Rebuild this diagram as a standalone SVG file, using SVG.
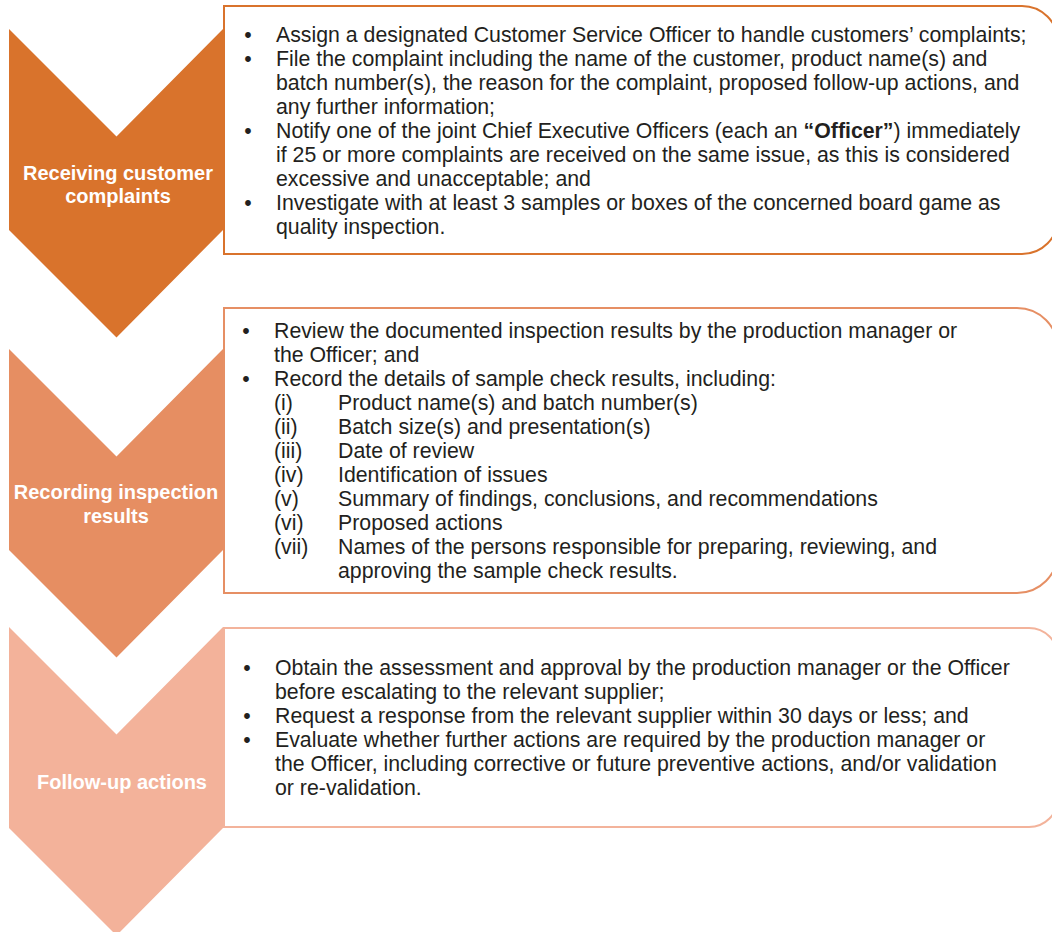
<svg xmlns="http://www.w3.org/2000/svg" width="1052" height="932" viewBox="0 0 1052 932">
  <style>
    .box { fill: #ffffff; stroke-width: 2; }
    .step { stroke: none; }
    .label { font-family: "Liberation Sans", Arial, sans-serif; font-size: 20px; font-weight: bold; fill: #ffffff; text-anchor: middle; }
    .body { font-family: "Liberation Sans", Arial, sans-serif; font-size: 21.3px; fill: #231f20; }
    .dot { text-anchor: middle; }
    .b { font-weight: bold; }
  </style>
  <rect width="1052" height="932" fill="#ffffff"/>

  <!-- Step 1: receiving customer complaints -->
  <g id="step1">
    <path class="box" stroke="#d9732c" d="M224,6 H1022 A36,36 0 0 1 1058,42 V218 A36,36 0 0 1 1022,254 H224 Z"/>
    <path class="step" fill="#d9732c" d="M9,29 L116.5,136.5 L223,29 L223,230 L116.5,337.5 L9,230 Z"/>
    <text class="label" x="118" y="180">Receiving customer</text>
    <text class="label" x="118" y="203">complaints</text>
    <g class="body">
      <text class="dot" x="248" y="42">•</text>
      <text x="276" y="42">Assign a designated Customer Service Officer to handle customers’ complaints;</text>
      <text class="dot" x="248" y="66">•</text>
      <text x="276" y="66">File the complaint including the name of the customer, product name(s) and</text>
      <text x="276" y="90">batch number(s), the reason for the complaint, proposed follow-up actions, and</text>
      <text x="276" y="114">any further information;</text>
      <text class="dot" x="248" y="138">•</text>
      <text x="276" y="138">Notify one of the joint Chief Executive Officers (each an <tspan class="b">“Officer”</tspan>) immediately</text>
      <text x="276" y="162">if 25 or more complaints are received on the same issue, as this is considered</text>
      <text x="276" y="186">excessive and unacceptable; and</text>
      <text class="dot" x="248" y="210">•</text>
      <text x="276" y="210">Investigate with at least 3 samples or boxes of the concerned board game as</text>
      <text x="276" y="234">quality inspection.</text>
    </g>
  </g>

  <!-- Step 2: recording inspection results -->
  <g id="step2">
    <path class="box" stroke="#e68f64" d="M224,308 H1017 A41,41 0 0 1 1058,349 V552 A41,41 0 0 1 1017,593 H224 Z"/>
    <path class="step" fill="#e68e62" d="M9,349 L116.5,456.5 L223,349 L223,550 L116.5,657.5 L9,550 Z"/>
    <text class="label" x="116" y="499">Recording inspection</text>
    <text class="label" x="116" y="523">results</text>
    <g class="body">
      <text class="dot" x="246" y="338">•</text>
      <text x="274" y="338">Review the documented inspection results by the production manager or</text>
      <text x="274" y="362">the Officer; and</text>
      <text class="dot" x="246" y="386">•</text>
      <text x="274" y="386">Record the details of sample check results, including:</text>
      <text x="274" y="410">(i)</text>
      <text x="338" y="410">Product name(s) and batch number(s)</text>
      <text x="274" y="434">(ii)</text>
      <text x="338" y="434">Batch size(s) and presentation(s)</text>
      <text x="274" y="458">(iii)</text>
      <text x="338" y="458">Date of review</text>
      <text x="274" y="482">(iv)</text>
      <text x="338" y="482">Identification of issues</text>
      <text x="274" y="506">(v)</text>
      <text x="338" y="506">Summary of findings, conclusions, and recommendations</text>
      <text x="274" y="530">(vi)</text>
      <text x="338" y="530">Proposed actions</text>
      <text x="274" y="554">(vii)</text>
      <text x="338" y="554">Names of the persons responsible for preparing, reviewing, and</text>
      <text x="338" y="578">approving the sample check results.</text>
    </g>
  </g>

  <!-- Step 3: follow-up actions -->
  <g id="step3">
    <path class="box" stroke="#f3b39b" d="M224,628 H1029 A29,29 0 0 1 1058,657 V798 A29,29 0 0 1 1029,827 H224 Z"/>
    <path class="step" fill="#f3b29a" d="M9,627 L116.5,734.5 L223,627 L223,828 L116.5,935.5 L9,828 Z"/>
    <text class="label" x="122" y="789">Follow-up actions</text>
    <g class="body">
      <text class="dot" x="247" y="675">•</text>
      <text x="275" y="675">Obtain the assessment and approval by the production manager or the Officer</text>
      <text x="275" y="699">before escalating to the relevant supplier;</text>
      <text class="dot" x="247" y="723">•</text>
      <text x="275" y="723">Request a response from the relevant supplier within 30 days or less; and</text>
      <text class="dot" x="247" y="747">•</text>
      <text x="275" y="747">Evaluate whether further actions are required by the production manager or</text>
      <text x="275" y="771">the Officer, including corrective or future preventive actions, and/or validation</text>
      <text x="275" y="795">or re-validation.</text>
    </g>
  </g>
</svg>
